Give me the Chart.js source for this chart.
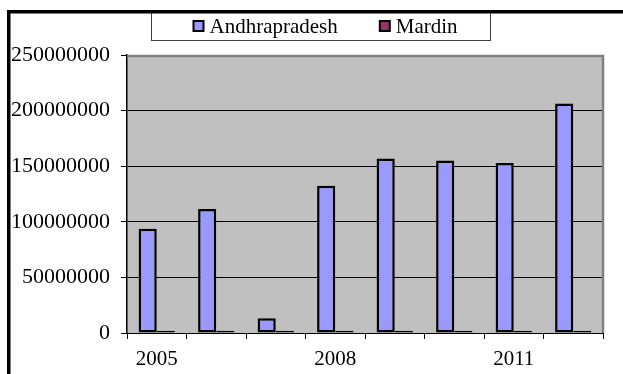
<!DOCTYPE html>
<html>
<head>
<meta charset="utf-8">
<script src="https://cdn.jsdelivr.net/npm/chart.js@4/dist/chart.umd.min.js"></script>
<style>
  html, body { margin: 0; padding: 0; background: #fff; }
  #wrap { width: 623px; height: 374px; position: relative; }
</style>
</head>
<body>
<div id="wrap"><canvas id="c" width="623" height="374"></canvas></div>
<script>
// Yearly totals per region
const years = ['2005', '2006', '2007', '2008', '2009', '2010', '2011', '2012'];
const andhrapradesh = [93700000, 111400000, 13200000, 132400000, 157000000, 155200000, 152900000, 206300000];
const mardin = [2000000, 2000000, 2000000, 2000000, 2000000, 2000000, 2000000, 2000000];
const yTickValues = [0, 50000000, 100000000, 150000000, 200000000, 250000000];

const SERIF = '"Liberation Serif", "Times New Roman", serif';

// Gray plot background with a darker top/right edge
const plotBackground = {
  id: 'plotBackground',
  beforeDraw(chart) {
    const { ctx, chartArea: a } = chart;
    ctx.save();
    ctx.fillStyle = '#fff';
    ctx.fillRect(0, 0, chart.width, chart.height);
    ctx.fillStyle = '#C0C0C0';
    ctx.fillRect(a.left, a.top, a.right - a.left, a.bottom - a.top);
    ctx.restore();
  },
  beforeDatasetsDraw(chart) {
    const { ctx, chartArea: a } = chart;
    ctx.save();
    ctx.strokeStyle = '#808080';
    ctx.lineWidth = 2.5;
    ctx.beginPath();
    ctx.moveTo(a.left, a.top + 1);
    ctx.lineTo(a.right, a.top + 1);
    ctx.lineTo(a.right, a.bottom);
    ctx.stroke();
    ctx.restore();
  }
};

// Boxed legend and the outer chart frame
const boxedLegend = {
  id: 'boxedLegend',
  afterDraw(chart) {
    const ctx = chart.ctx;
    ctx.save();
    const box = { left: 151.5, top: 10.5, right: 490.5, bottom: 40.5 };
    ctx.fillStyle = '#fff';
    ctx.fillRect(box.left, box.top, box.right - box.left, box.bottom - box.top);
    ctx.strokeStyle = '#404040';
    ctx.lineWidth = 1;
    ctx.strokeRect(box.left, box.top, box.right - box.left, box.bottom - box.top);

    ctx.font = '21px ' + SERIF;
    ctx.textBaseline = 'middle';
    ctx.textAlign = 'left';
    const cy = 26;
    const size = 10;
    let x = box.left + 42;
    chart.data.datasets.forEach((ds) => {
      ctx.fillStyle = ds.backgroundColor;
      ctx.fillRect(x, cy - size / 2, size, size);
      ctx.strokeStyle = '#000';
      ctx.lineWidth = 2;
      ctx.strokeRect(x, cy - size / 2, size, size);
      ctx.fillStyle = '#000';
      const tx = x + size + 6;
      ctx.fillText(ds.label, tx, cy + 1);
      x = tx + ctx.measureText(ds.label).width + 42;
    });

    // outer frame (left and top edges)
    ctx.fillStyle = '#000';
    ctx.fillRect(7, 10, 3.5, chart.height - 10);
    ctx.fillRect(7, 10, chart.width - 7, 3.5);
    ctx.restore();
  }
};

new Chart(document.getElementById('c'), {
  type: 'bar',
  data: {
    labels: years,
    datasets: [
      {
        label: 'Andhrapradesh',
        data: andhrapradesh,
        backgroundColor: '#9999FF',
        borderColor: '#000',
        borderWidth: 2.5,
        borderSkipped: false
      },
      {
        label: 'Mardin',
        data: mardin,
        backgroundColor: '#993366',
        borderColor: '#000',
        borderWidth: 2.5,
        borderSkipped: false
      }
    ]
  },
  options: {
    responsive: false,
    animation: false,
    devicePixelRatio: 1,
    layout: { autoPadding: false, padding: { top: 55, right: 20, bottom: 0, left: 0 } },
    datasets: { bar: { barPercentage: 1, categoryPercentage: 0.61 } },
    plugins: { legend: { display: false }, tooltip: { enabled: false } },
    scales: {
      x: {
        offset: true,
        grid: { offset: true, drawOnChartArea: false, drawTicks: true, tickLength: 6, tickColor: '#000', tickWidth: 1 },
        border: { color: '#000', width: 1 },
        ticks: {
          autoSkip: false,
          maxRotation: 0,
          minRotation: 0,
          padding: 8,
          color: '#000',
          font: { family: SERIF, size: 21 },
          callback: (v, i) => (i % 3 === 0 ? years[i] : '')
        },
        afterFit(scale) { scale.height = 41; }
      },
      y: {
        min: 0,
        max: 250000000,
        afterBuildTicks(scale) { scale.ticks = yTickValues.map(v => ({ value: v })); },
        grid: {
          color: ctx => (ctx.tick && ctx.tick.value === 250000000 ? 'rgba(0,0,0,0)' : '#000'),
          lineWidth: 1,
          tickLength: 6,
          tickColor: '#000'
        },
        border: { color: '#000', width: 1.5 },
        ticks: {
          padding: 11,
          color: '#000',
          font: { family: SERIF, size: 22 },
          callback: v => String(v)
        },
        afterFit(scale) { scale.width = 127; }
      }
    }
  },
  plugins: [plotBackground, boxedLegend]
});
</script>
</body>
</html>
